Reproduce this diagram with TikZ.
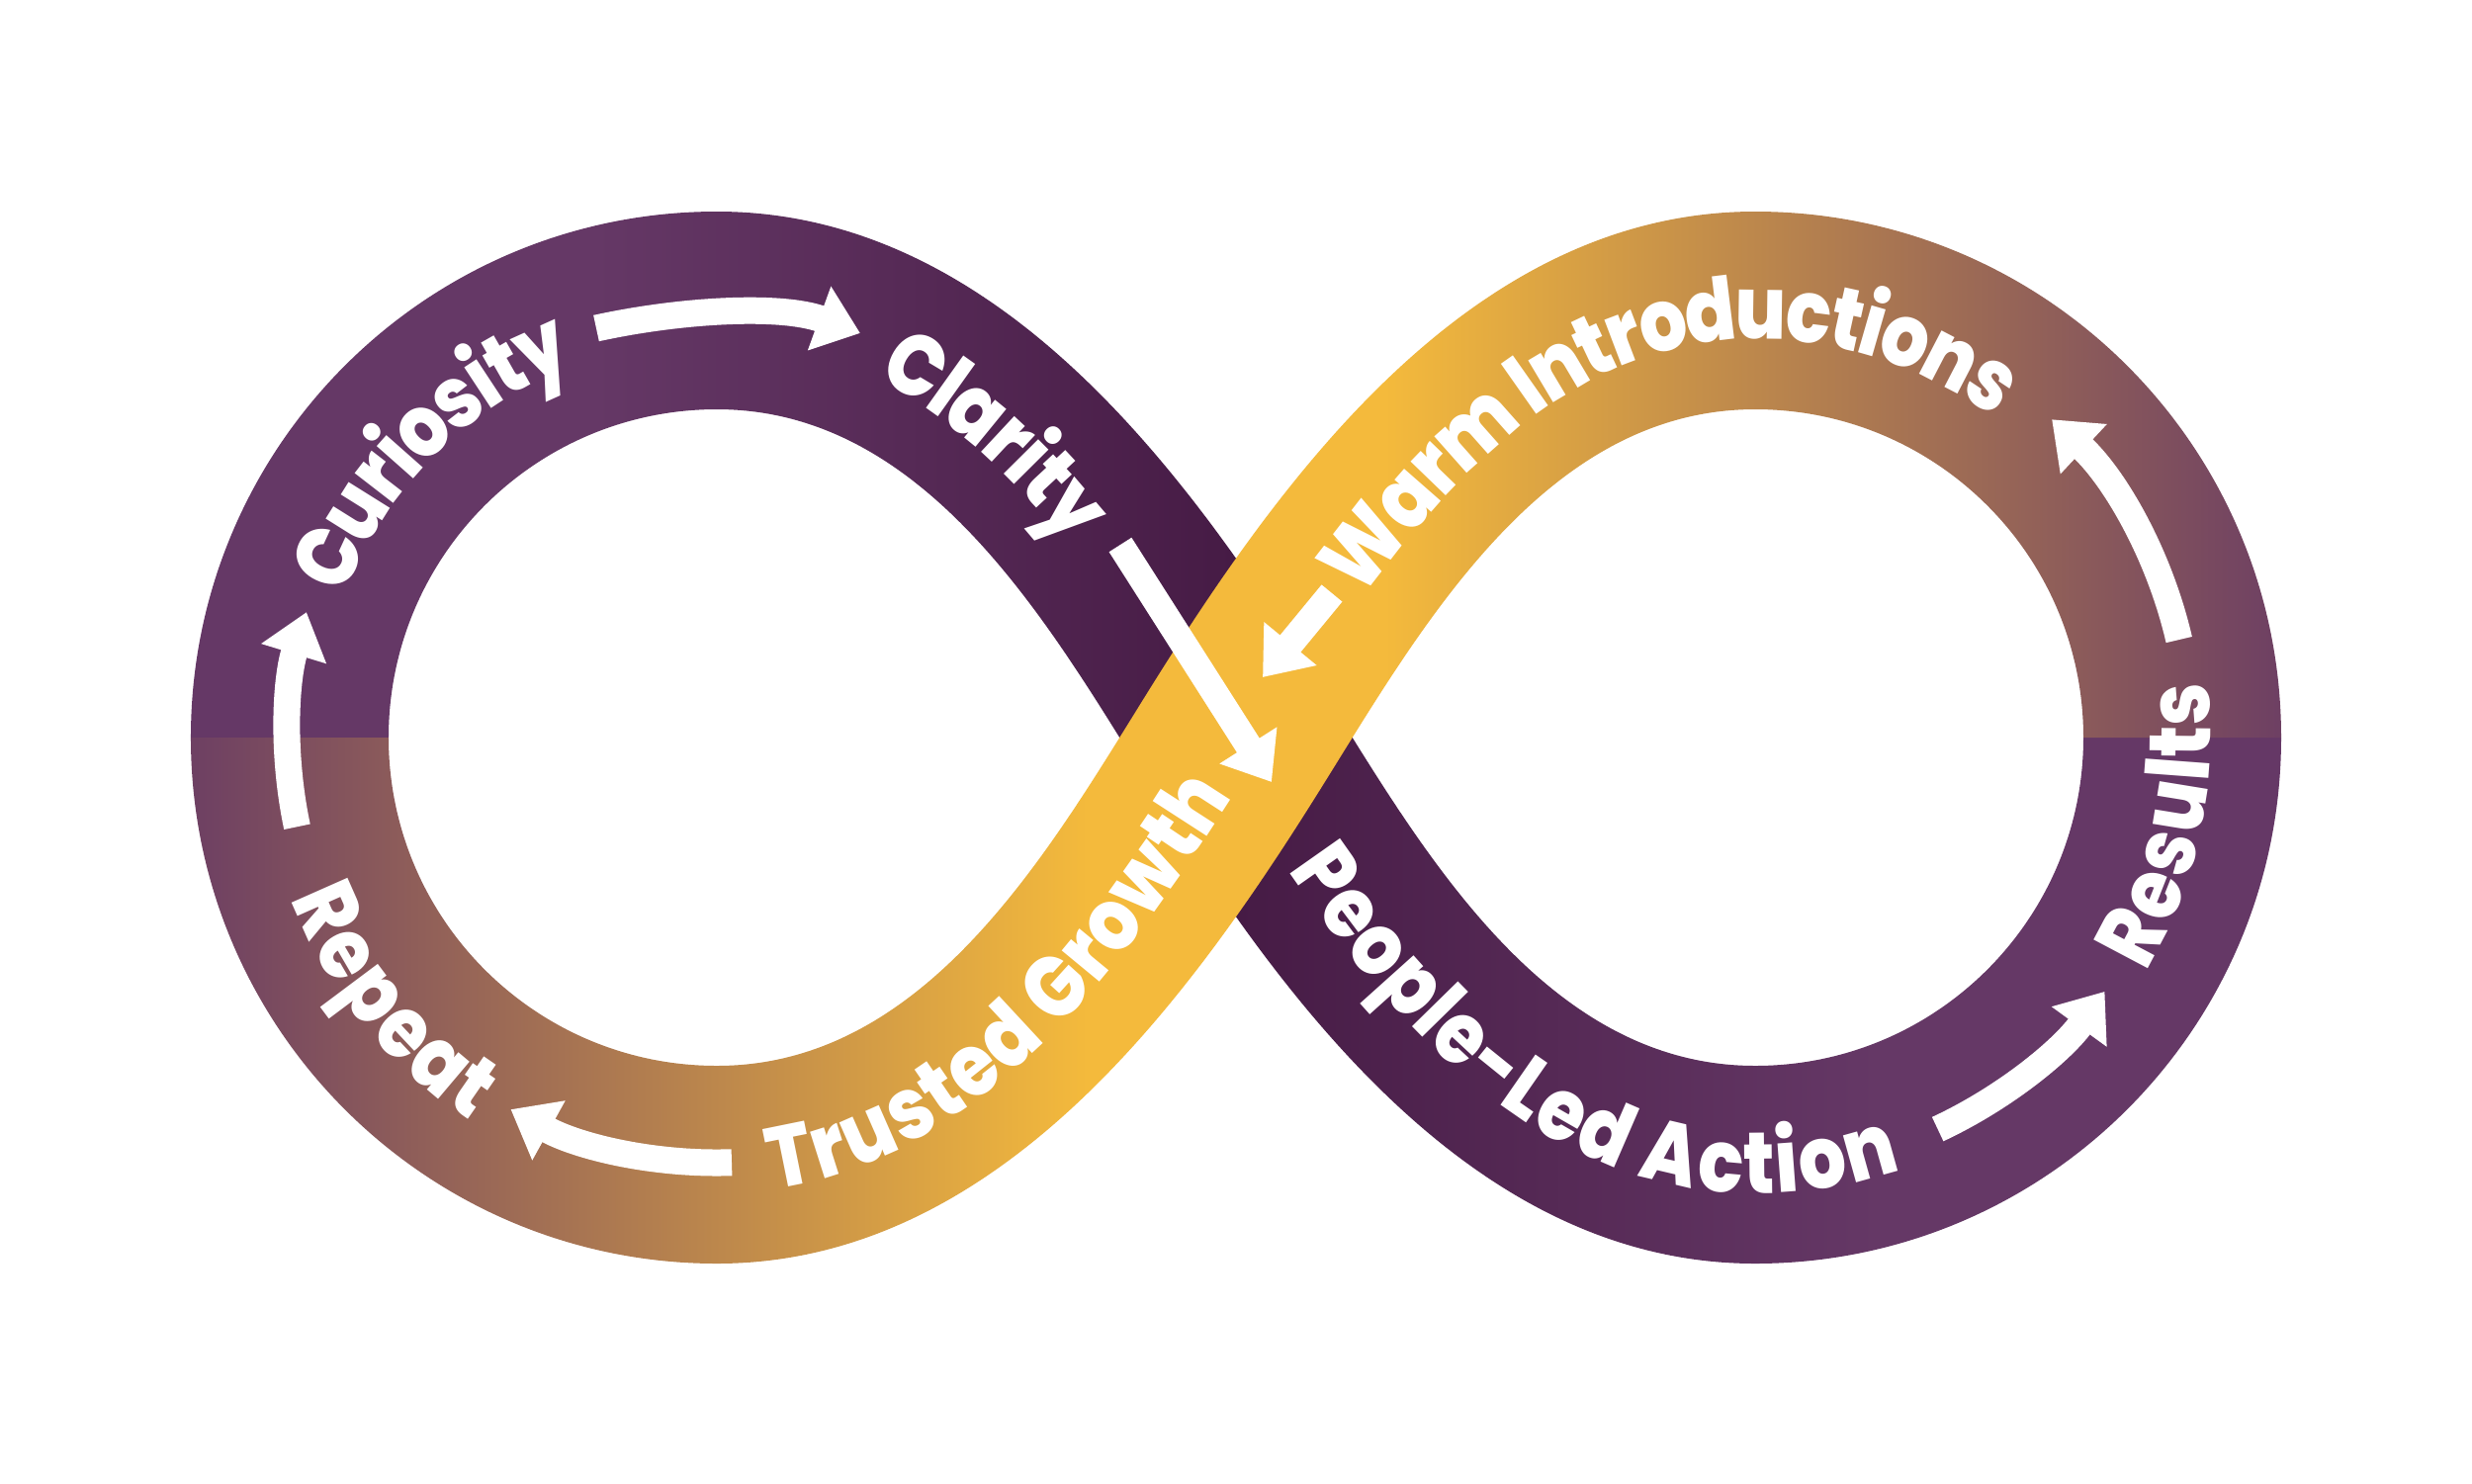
\documentclass[tikz,border=0pt]{standalone}
\usepackage{fontspec}
\IfFontExistsTF{Poppins ExtraBold}
  {\setmainfont{Poppins}[BoldFont={Poppins ExtraBold}, FakeStretch=0.86]}
  {\setmainfont{Poppins}[FakeStretch=0.86]}
\usetikzlibrary{arrows.meta, decorations.text}

\definecolor{plum}{HTML}{653866}
\definecolor{plumdark}{HTML}{461B45}
\definecolor{gold}{HTML}{F4BA3C}
\definecolor{mauve}{HTML}{6D3F63}

% colour runs left to right over the whole width
\pgfdeclarehorizontalshading{goldband}{100bp}{color(0bp)=(mauve); color(28.8bp)=(mauve);
    color(47bp)=(gold); color(53bp)=(gold); color(71.2bp)=(mauve); color(100bp)=(mauve)}
\pgfdeclarehorizontalshading{plumband}{100bp}{color(0bp)=(plum); color(37bp)=(plum);
    color(50bp)=(plumdark); color(63bp)=(plum); color(100bp)=(plum)}

\newcommand{\looptext}{\fontsize{25}{30}\selectfont\bfseries\color{white}}

\begin{document}
\begin{tikzpicture}[
    flow/.style={draw=white, line width=2.7mm, -{Triangle[length=4.4mm, width=6.6mm]}},
    looplabel/.style={decorate, decoration={text along path, raise=-2.9mm,
        text align=center, text={|\looptext|#1}}}
  ]
    \useasboundingbox (-12.5,-7.54) rectangle (12.5,7.46);
    \fill[white] (-12.5,-7.54) rectangle (12.5,7.46);

    % Loop centres
    \coordinate (cL) at (-5.25,0);
    \coordinate (cR) at (5.25,0);

    % The two strands: plum one first, gold one over it
    \foreach \s/\shd in {-1/plumband, 1/goldband} {
      \begin{scope}[yscale=\s]
        \clip (-10.57,0) arc[start angle=180, end angle=270, radius=5.32]
          .. controls (-2.40,-5.32) and (-0.477,-2.65) .. (0.848,-0.530)
          .. controls (1.855,1.081) and (3.10,3.32) .. (5.25,3.32)
          arc[start angle=90, end angle=0, radius=3.32] -- (10.57,0)
          arc[start angle=0, end angle=90, radius=5.32]
          .. controls (2.40,5.32) and (0.477,2.65) .. (-0.848,0.530)
          .. controls (-1.855,-1.081) and (-3.10,-3.32) .. (-5.25,-3.32)
          arc[start angle=270, end angle=180, radius=3.32] -- cycle;
        \shade[shading=\shd] (-12.5,-7.54) rectangle (12.5,7.54);
      \end{scope}
    }

    % Labels along the band
    \path[looplabel=Curiosity] ([shift={(cL)}]158:4.32) arc[start angle=158, end angle=112, radius=4.32];
    \path[looplabel=Clarity] ([shift={(cL)}]100:4.32) arc[start angle=100, end angle=90, radius=4.32]
      .. controls (-2.75,4.32) and (-1.166,1.866) .. (0,0);
    \path[looplabel=People-Led Action, decoration={text align={left, left indent=1.4cm}}]
      (0,0) .. controls (1.166,-1.866) and (2.75,-4.32) .. (5.25,-4.32)
      arc[start angle=270, end angle=320, radius=4.32];
    \path[looplabel=Results] ([shift={(cR)}]-32:4.32) arc[start angle=-32, end angle=8, radius=4.32];
    \path[looplabel=Warm Introductions, decoration={text align={left, left indent=1.9cm}}]
      (0,0) .. controls (1.166,1.866) and (2.75,4.32) .. (5.25,4.32)
      arc[start angle=90, end angle=30, radius=4.32];
    \path[looplabel=Trusted Growth] (-5.25,-4.32) .. controls (-2.75,-4.32) and (-1.166,-1.866) .. (0,0);
    \path[looplabel=Repeat] ([shift={(cL)}]199:4.32) arc[start angle=199, end angle=239, radius=4.32];

    % Flow arrows
    \draw[flow] (-6.47,4.14) .. controls (-5.6,4.33) and (-4.6,4.38) .. (-3.80,4.09);
    \draw[flow] (-1.17,1.95) -- (0.36,-0.45);
    \draw[flow] ([shift={(cR)}]-65:4.37) arc[start angle=-65, end angle=-36, radius=4.37];
    \draw[flow] ([shift={(cR)}]13:4.40) arc[start angle=13, end angle=47, radius=4.40];
    \draw[flow] (0.97,1.46) -- (0.27,0.61);
    \draw[flow] ([shift={(cL)}]272:4.30) arc[start angle=272, end angle=241, radius=4.30];
    \draw[flow] ([shift={(cL)}]192:4.34) arc[start angle=192, end angle=163, radius=4.34];
\end{tikzpicture}
\end{document}
